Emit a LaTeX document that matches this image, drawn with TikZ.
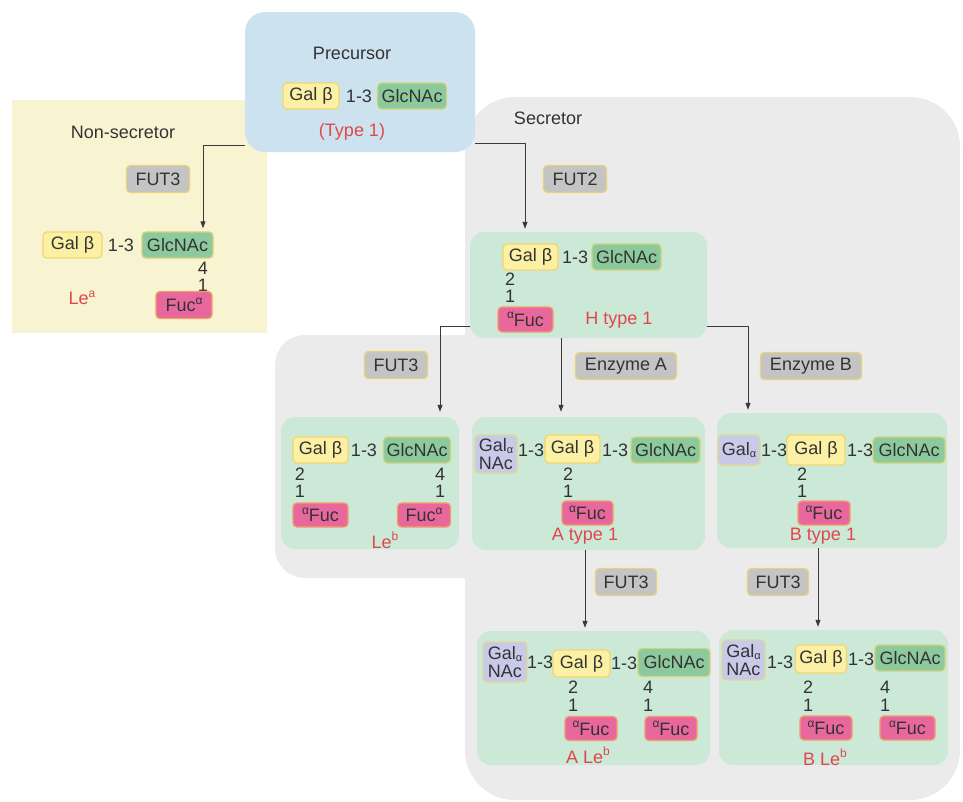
\documentclass[tikz,border=0pt]{standalone}
\usepackage{fontspec}
\setmainfont{Liberation Sans}
\usetikzlibrary{arrows.meta}

\definecolor{txt}{HTML}{333333}
\definecolor{namered}{HTML}{E0474C}
\definecolor{bluebg}{HTML}{CCE3EF}
\definecolor{yellowbg}{HTML}{F8F4D2}
\definecolor{graybg}{HTML}{EBEBEB}
\definecolor{panelgreen}{HTML}{CBE9D6}
\definecolor{galbfill}{HTML}{FBF0A4}
\definecolor{galbline}{HTML}{F1D770}
\definecolor{glcfill}{HTML}{8CC99C}
\definecolor{glcline}{HTML}{D4D27C}
\definecolor{fucfill}{HTML}{E8689E}
\definecolor{fucline}{HTML}{F0A064}
\definecolor{galnafill}{HTML}{C9C9EA}
\definecolor{galnaline}{HTML}{E2D894}
\definecolor{enzfill}{HTML}{C4C4C4}
\definecolor{enzline}{HTML}{EAD27A}
\definecolor{arrowc}{HTML}{3A3A3A}

% small raised / lowered Greek letters
\newcommand{\sups}[1]{\raisebox{0.42em}{\fontsize{12}{12}\selectfont #1}}
\newcommand{\subs}[1]{\raisebox{-0.12em}{\fontsize{11}{11}\selectfont #1}}

\begin{document}
\begin{tikzpicture}[x=1pt,y=-1pt,
  font=\fontsize{18}{18}\selectfont,
  sugar/.style={draw, rounded corners=4pt, line width=1.3pt, inner sep=0pt,
                minimum height=26pt, text=txt},
  galb/.style={sugar, fill=galbfill, draw=galbline, minimum width=56pt},
  glc/.style={sugar, fill=glcfill, draw=glcline, minimum width=69pt},
  fuc/.style={sugar, fill=fucfill, draw=fucline, minimum width=53pt, minimum height=24pt},
  galna/.style={sugar, fill=galnafill, draw=galnaline, minimum width=42pt,
                minimum height=38pt, align=left, font=\fontsize{18}{18}\selectfont},
  enz/.style={sugar, fill=enzfill, draw=enzline, minimum width=63pt, minimum height=27pt},
  lbl/.style={text=txt, inner sep=0pt},
  namelbl/.style={text=namered, inner sep=0pt},
  panel/.style={fill=panelgreen, rounded corners=14pt, inner sep=0pt},
  arr/.style={-{Triangle[width=5pt,length=7pt]}, line width=1pt, draw=arrowc}]

\useasboundingbox (0,0) rectangle (963,801);
\fill[white] (0,0) rectangle (963,801);

% ---------- background regions ----------
\node[fill=yellowbg, inner sep=0pt, minimum width=255pt, minimum height=233pt] (nsec) at (139.5,216.5) {};
\fill[graybg, rounded corners=50pt] (465,97) rectangle (960,800);
\fill[graybg, rounded corners=30pt] (275,335) rectangle (500,578);
\node[fill=bluebg, rounded corners=20pt, inner sep=0pt, minimum width=230pt, minimum height=140pt] (pre) at (360,82) {};

% ---------- precursor ----------
\node[lbl] (preT) at (352,53) {Precursor};
\node[galb] (preGal) at (311,96) {Gal β};
\node[lbl] (preL) at (359,96) {1-3};
\node[glc] (preGlc) at (412,96) {GlcNAc};
\node[namelbl] (preN) at (352,132) {(Type 1)};

% ---------- non-secretor ----------
\node[lbl] (nsecT) at (123,132) {Non-secretor};
\node[enz] (e1) at (158,179) {FUT3};
\node[galb, minimum width=59pt] (naGal) at (72.5,245) {Gal β};
\node[lbl] (naL) at (121,245) {1-3};
\node[glc, minimum width=71pt] (naGlc) at (177.5,245) {GlcNAc};
\node[lbl] (naN4) at (203,268) {4};
\node[lbl] (naN1) at (203,285) {1};
\node[namelbl] (naName) at (82,298) {Le\sups{a}};
\node[fuc, minimum width=56pt, minimum height=27pt] (naFuc) at (184,305) {Fuc\sups{α}};

% ---------- secretor ----------
\node[lbl] (secT) at (548,118) {Secretor};
\node[enz] (e2) at (575,179) {FUT2};

% H type 1
\node[panel, minimum width=237pt, minimum height=106pt] (hbox) at (588.5,285) {};
\node[galb, minimum width=55pt] (hGal) at (530.5,257) {Gal β};
\node[lbl] (hL) at (575,257) {1-3};
\node[glc] (hGlc) at (626.5,257) {GlcNAc};
\node[lbl] (hN2) at (510,279) {2};
\node[lbl] (hN1) at (510,296) {1};
\node[fuc, minimum width=55pt, minimum height=25pt] (hFuc) at (525.5,319.5) {\sups{α}Fuc};
\node[namelbl] (hName) at (619,320) {H type 1};

% enzymes of the second step
\node[enz] (e3) at (396,365) {FUT3};
\node[enz, minimum width=101pt] (eA) at (626,366) {Enzyme A};
\node[enz, minimum width=101pt] (eB) at (811,366) {Enzyme B};

% Le b
\node[panel, minimum width=178pt, minimum height=132pt] (leb) at (370,483) {};
\node[galb, minimum width=55pt] (lbGal) at (320.5,450) {Gal β};
\node[lbl] (lbL) at (364,450) {1-3};
\node[glc, minimum width=67pt] (lbGlc) at (417,450) {GlcNAc};
\node[lbl] (lbN2) at (300,474) {2};
\node[lbl] (lbN1) at (300,491) {1};
\node[lbl] (lbN4) at (440,474) {4};
\node[lbl] (lbN1b) at (440,491) {1};
\node[fuc, minimum width=55pt] (lbFucA) at (320.5,515) {\sups{α}Fuc};
\node[fuc, minimum width=53pt] (lbFucB) at (424,515) {Fuc\sups{α}};
\node[namelbl] (lbName) at (385,540) {Le\sups{b}};

% A type 1
\node[panel, minimum width=233pt, minimum height=133pt] (atype) at (588.5,483.5) {};
\node[galna] (atNa) at (496,454) {Gal\subs{α}\\NAc};
\node[lbl] (atL1) at (531,450) {1-3};
\node[galb, minimum width=55pt, minimum height=28pt] (atGal) at (572.5,449) {Gal β};
\node[lbl] (atL2) at (615,450) {1-3};
\node[glc] (atGlc) at (665.5,450) {GlcNAc};
\node[lbl] (atN2) at (568,474) {2};
\node[lbl] (atN1) at (568,491) {1};
\node[fuc, minimum width=51pt] (atFuc) at (587.5,513) {\sups{α}Fuc};
\node[namelbl] (atName) at (585,536) {A type 1};

% B type 1
\node[panel, minimum width=230pt, minimum height=135pt] (btype) at (832,480.5) {};
\node[galna, minimum height=30pt] (btGa) at (739,450) {Gal\subs{α}};
\node[lbl] (btL1) at (774,450) {1-3};
\node[galb, minimum width=58pt, minimum height=30pt] (btGal) at (816,450) {Gal β};
\node[lbl] (btL2) at (860,450) {1-3};
\node[glc, minimum width=72pt] (btGlc) at (909,450) {GlcNAc};
\node[lbl] (btN2) at (802,474) {2};
\node[lbl] (btN1) at (802,491) {1};
\node[fuc, minimum width=52pt] (btFuc) at (824,513) {\sups{α}Fuc};
\node[namelbl] (btName) at (823,536) {B type 1};

% third step enzymes
\node[enz, minimum width=61pt] (e4) at (626,582) {FUT3};
\node[enz, minimum width=61pt] (e5) at (778,582) {FUT3};

% A Le b
\node[panel, minimum width=233pt, minimum height=134pt] (aleb) at (593.5,698) {};
\node[galna, minimum width=44pt, minimum height=40pt] (alNa) at (505,662) {Gal\subs{α}\\NAc};
\node[lbl] (alL1) at (540,662) {1-3};
\node[galb, minimum width=57pt, minimum height=27pt] (alGal) at (581.5,663.5) {Gal β};
\node[lbl] (alL2) at (624,663) {1-3};
\node[glc, minimum width=72pt, minimum height=28pt] (alGlc) at (674,662.5) {GlcNAc};
\node[lbl] (alN2) at (573,687) {2};
\node[lbl] (alN1) at (573,705) {1};
\node[lbl] (alN4) at (648,687) {4};
\node[lbl] (alN1b) at (648,705) {1};
\node[fuc, minimum width=52pt] (alFucA) at (591,728.5) {\sups{α}Fuc};
\node[fuc, minimum width=52pt] (alFucB) at (671,728.5) {\sups{α}Fuc};
\node[namelbl] (alName) at (588,755) {A Le\sups{b}};

% B Le b
\node[panel, minimum width=229pt, minimum height=135pt] (bleb) at (833.5,697.5) {};
\node[galna, minimum width=43pt, minimum height=40pt] (blNa) at (743.5,660) {Gal\subs{α}\\NAc};
\node[lbl] (blL1) at (780,662) {1-3};
\node[galb, minimum width=51pt, minimum height=28pt] (blGal) at (821,659) {Gal β};
\node[lbl] (blL2) at (861,659) {1-3};
\node[glc, minimum width=70pt] (blGlc) at (910,658) {GlcNAc};
\node[lbl] (blN2) at (808,687) {2};
\node[lbl] (blN1) at (808,705) {1};
\node[lbl] (blN4) at (885,687) {4};
\node[lbl] (blN1b) at (885,705) {1};
\node[fuc, minimum width=52pt] (blFucA) at (826,728) {\sups{α}Fuc};
\node[fuc, minimum width=55pt] (blFucB) at (907.5,728) {\sups{α}Fuc};
\node[namelbl] (blName) at (825,757) {B Le\sups{b}};

% ---------- connectors ----------
\draw[arr] ([yshift=7pt]pre.south west) -| ([xshift=25.5pt,yshift=3pt]naGlc.north);
\draw[arr] ([yshift=9pt]pre.south east) -| ([xshift=-63.5pt,yshift=3pt]hbox.north);
\draw[arr] ([yshift=12pt]hbox.south west) -| ([xshift=70pt,yshift=5pt]leb.north);
\draw[arr] ([xshift=-27.5pt]hbox.south) -- ([xshift=-27.5pt,yshift=5pt]hbox.south |- atype.north);
\draw[arr] ([yshift=12pt]hbox.south east) -| ([xshift=-84pt,yshift=3pt]btype.north);
\draw[arr] ([xshift=-3.5pt]atype.south) -- ([xshift=-3.5pt,yshift=3pt]atype.south |- aleb.north);
\draw[arr] ([xshift=-14pt]btype.south) -- ([xshift=-14pt,yshift=3pt]btype.south |- bleb.north);

\end{tikzpicture}
\end{document}
